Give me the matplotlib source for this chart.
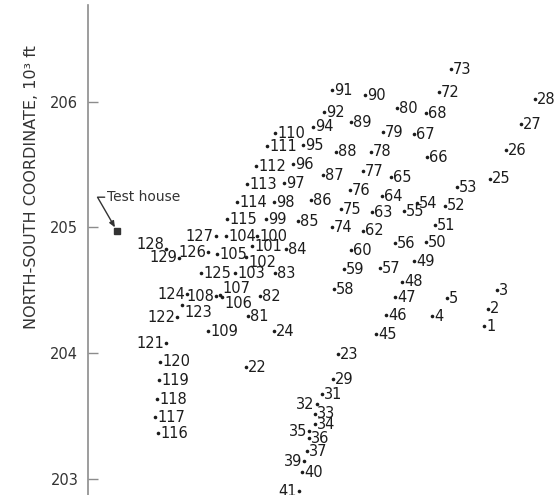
import matplotlib.pyplot as plt

# sampling points: id, east and north coordinate (10^3 ft, east measured from the axis line)
point_ids = [1, 2, 3, 4, 5, 22, 23, 24, 25, 26, 27, 28, 29, 31, 32, 33, 34, 35, 36, 37,
             39, 40, 41, 45, 46, 47, 48, 49, 50, 51, 52, 53, 54, 55, 56, 57, 58, 59, 60, 62,
             63, 64, 65, 66, 67, 68, 72, 73, 74, 75, 76, 77, 78, 79, 80, 81, 82, 83, 84, 85,
             86, 87, 88, 89, 90, 91, 92, 94, 95, 96, 97, 98, 99, 100, 101, 102, 103, 104, 105, 106,
             107, 108, 109, 110, 111, 112, 113, 114, 115, 116, 117, 118, 119, 120, 121, 122, 123, 124, 125, 126,
             127, 128, 129]
east = [3.153, 3.185, 3.256, 2.739, 2.858, 1.258, 1.990, 1.481, 3.201, 3.328, 3.447, 3.559, 1.951, 1.863, 1.823, 1.807, 1.807, 1.760, 1.760, 1.744,
        1.720, 1.704, 1.680, 2.293, 2.373, 2.444, 2.500, 2.596, 2.691, 2.763, 2.842, 2.938, 2.619, 2.516, 2.444, 2.325, 1.959, 2.038, 2.094, 2.189,
        2.261, 2.341, 2.412, 2.699, 2.596, 2.691, 2.795, 2.890, 1.943, 2.014, 2.086, 2.189, 2.253, 2.349, 2.460, 1.274, 1.369, 1.489, 1.576, 1.672,
        1.775, 1.871, 1.975, 2.094, 2.205, 1.943, 1.879, 1.791, 1.712, 1.632, 1.561, 1.481, 1.417, 1.346, 1.306, 1.258, 1.170, 1.099, 1.027, 1.067,
        1.051, 1.019, 0.955, 1.489, 1.425, 1.338, 1.266, 1.186, 1.107, 0.557, 0.533, 0.549, 0.565, 0.573, 0.621, 0.709, 0.748, 0.788, 0.900, 0.955,
        1.019, 0.621, 0.725]
north = [204.214, 204.350, 204.501, 204.294, 204.437, 203.888, 203.991, 204.174, 205.385, 205.615, 205.822, 206.021, 203.792, 203.673, 203.593, 203.514, 203.434, 203.378, 203.322, 203.219,
         203.139, 203.052, 202.900, 204.150, 204.302, 204.445, 204.565, 204.732, 204.883, 205.018, 205.170, 205.321, 205.193, 205.130, 204.875, 204.676, 204.509, 204.668, 204.819, 204.971,
         205.122, 205.249, 205.400, 205.560, 205.743, 205.910, 206.077, 206.260, 205.002, 205.146, 205.297, 205.448, 205.600, 205.759, 205.950, 204.294, 204.453, 204.636, 204.827, 205.050,
         205.217, 205.416, 205.600, 205.838, 206.053, 206.093, 205.918, 205.799, 205.655, 205.504, 205.353, 205.201, 205.066, 204.931, 204.851, 204.764, 204.636, 204.931, 204.787, 204.445,
         204.461, 204.453, 204.174, 205.751, 205.647, 205.488, 205.345, 205.201, 205.066, 203.362, 203.490, 203.633, 203.784, 203.928, 204.079, 204.286, 204.381, 204.469, 204.636, 204.803,
         204.931, 204.827, 204.756]

# labels written on the left of the dot, and a few shifted up/down
left_labels = [32, 35, 39, 41, 108, 121, 122, 124, 126, 127, 128, 129]
label_shift = {102: -4, 106: -5, 107: 5, 123: -5, 128: 3}

house_east = 0.231
house_north = 204.971
yticks = [203, 204, 205, 206]

ink = '#1c1c1c'
grey = '#8c8c8c'

fig = plt.figure(figsize=(5.57, 4.95), dpi=100)
ax = fig.add_axes([0, 0, 1, 1])
ax.set_xlim(-0.7006, 3.734)
ax.set_ylim(202.869, 206.81)

ax.plot(east, north, 'o', color=ink, ms=2.6, mew=0)

for pid, x, y in zip(point_ids, east, north):
    dy = label_shift.get(pid, 0)
    if pid in left_labels:
        ax.annotate(str(pid), (x, y), xytext=(-1.5, dy), textcoords='offset points',
                    ha='right', va='center', fontsize=10.5, color=ink)
    else:
        ax.annotate(str(pid), (x, y), xytext=(1.5, dy), textcoords='offset points',
                    ha='left', va='center', fontsize=10.5, color=ink)

# test house
ax.plot([house_east], [house_north], 's', color='#333333', ms=5)
ax.annotate('Test house', (house_east, house_north), xytext=(0.155, 205.24),
            ha='left', va='center', fontsize=10, color='#333333',
            arrowprops=dict(arrowstyle='-|>,head_length=0.35,head_width=0.15', color='#333333', lw=1,
                            shrinkA=0, shrinkB=3, relpos=(0, 0.5),
                            connectionstyle='angle,angleA=0,angleB=120,rad=0'))

# axis styling
for side in ['top', 'right', 'bottom']:
    ax.spines[side].set_visible(False)
ax.spines['left'].set_position(('data', 0))
ax.spines['left'].set_bounds(202.869, 206.77)
ax.spines['left'].set_color(grey)
ax.spines['left'].set_linewidth(1.2)
ax.set_xticks([])
ax.set_yticks(yticks)
ax.tick_params(axis='y', direction='in', length=7, width=1, color=grey,
               labelsize=10.5, labelcolor='#333333', pad=7)

ax.text(0.056, 0.622, 'NORTH-SOUTH COORDINATE, 10³ ft', transform=ax.transAxes,
        rotation=90, ha='center', va='center', fontsize=11.5, color='#333333')

fig.savefig('out.png', dpi=100)
